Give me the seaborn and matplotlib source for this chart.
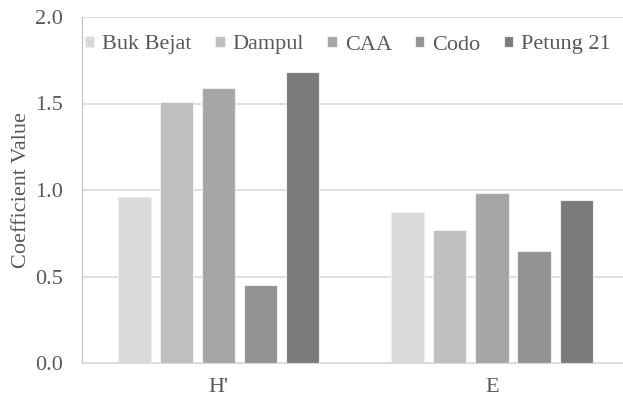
import pandas as pd
import seaborn as sns
import matplotlib.pyplot as plt

categories = ["H'", "E"]
sites = ["Buk Bejat", "Dampul", "CAA", "Codo", "Petung 21"]
h_values = [0.96, 1.51, 1.59, 0.45, 1.68]
e_values = [0.87, 0.77, 0.98, 0.65, 0.94]
colors = ["#D9D9D9", "#BFBFBF", "#A6A6A6", "#939393", "#7B7B7B"]

rows = []
for site, h, e in zip(sites, h_values, e_values):
    rows.append({"Index": categories[0], "Site": site, "Value": h})
    rows.append({"Index": categories[1], "Site": site, "Value": e})
df = pd.DataFrame(rows)

sns.set_style("white")
plt.rcParams['font.family'] = ['Liberation Serif', 'DejaVu Serif']
text_color = "#595959"

fig, ax = plt.subplots(figsize=(6.23, 4.0), dpi=100)
sns.barplot(data=df, x="Index", y="Value", hue="Site", order=categories,
            hue_order=sites, palette=colors, width=0.77, gap=0.21,
            edgecolor="#EEEEEE", linewidth=0.8, ax=ax)

ax.set_ylim(0, 2.0)
ax.set_xlim(-0.5, 1.5)
ax.set_yticks([0.0, 0.5, 1.0, 1.5, 2.0])
ax.set_yticklabels([f"{v:.1f}" for v in [0.0, 0.5, 1.0, 1.5, 2.0]])
ax.yaxis.grid(True, color="#D9D9D9", linewidth=1.2)
ax.set_axisbelow(True)
ax.set_xlabel("")
ax.set_ylabel("Coefficient Value", fontsize=16, color=text_color, labelpad=3)
ax.tick_params(axis="x", labelsize=16, colors=text_color, length=0, pad=11)
ax.tick_params(axis="y", labelsize=16, colors=text_color, length=4.5,
               width=1, color="#BFBFBF", pad=9)

for side in ["top", "right"]:
    ax.spines[side].set_visible(False)
ax.spines["left"].set_color("#BFBFBF")
ax.spines["bottom"].set_color("#D9D9D9")

leg = ax.legend(loc="center left", ncol=5, frameon=False, fontsize=16,
                handlelength=0.42, handleheight=0.42, handletextpad=0.36,
                columnspacing=1.05, borderpad=0, borderaxespad=0,
                bbox_to_anchor=(85 / 623, 1 - 45 / 400),
                bbox_transform=fig.transFigure)
for t in leg.get_texts():
    t.set_color(text_color)

plt.subplots_adjust(left=82 / 623, right=1.009, top=1 - 17 / 400, bottom=37 / 400)
plt.savefig("out.png", dpi=100)
